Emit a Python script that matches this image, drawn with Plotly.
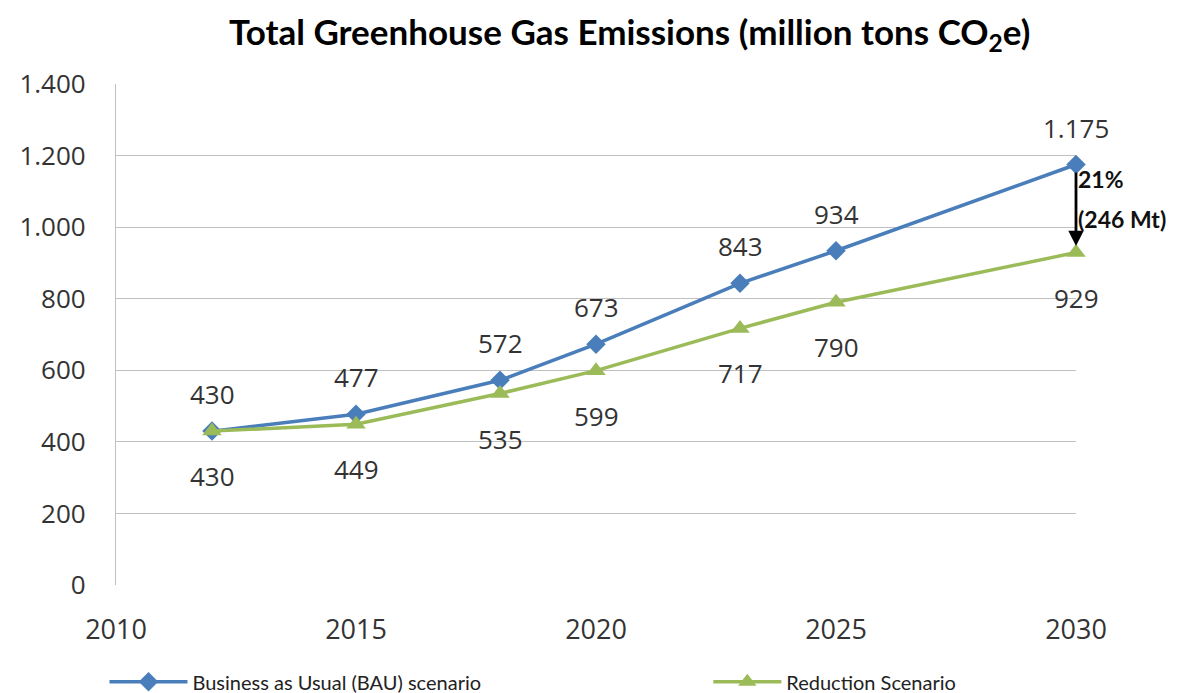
import plotly.graph_objects as go

years = [2012, 2015, 2018, 2020, 2023, 2025, 2030]
bau = [430, 477, 572, 673, 843, 934, 1175]
reduction = [430, 449, 535, 599, 717, 790, 929]
x_ticks = [2010, 2015, 2020, 2025, 2030]
y_ticks = [0, 200, 400, 600, 800, 1000, 1200, 1400]


def fmt(v):
    return f"{v:,}".replace(",", ".")


label_font = dict(family="Open Sans", size=26, color="#333333")

fig = go.Figure()
fig.add_trace(go.Scatter(
    x=years, y=bau, mode="lines+markers",
    name="Business as Usual (BAU) scenario",
    line=dict(color="#4A7EBB", width=3.5),
    marker=dict(symbol="diamond", size=15, color="#4A7EBB"),
    cliponaxis=False, legend="legend",
))
fig.add_trace(go.Scatter(
    x=years, y=reduction, mode="lines+markers",
    name="Reduction Scenario",
    line=dict(color="#9BBB59", width=3.5),
    marker=dict(symbol="triangle-up", size=17, color="#9BBB59"),
    cliponaxis=False, legend="legend2",
))

# data labels
for xv, yv in zip(years, bau):
    fig.add_annotation(x=xv, y=yv, text=fmt(yv), showarrow=False, yshift=37,
                       yanchor="middle", font=label_font)
for xv, yv in zip(years, reduction):
    fig.add_annotation(x=xv, y=yv, text=fmt(yv), showarrow=False, yshift=-45,
                       yanchor="middle", font=label_font)

# arrow showing the reduction in 2030
fig.add_annotation(x=years[-1], y=reduction[-1] + 18, ax=years[-1], ay=bau[-1] - 18,
                   xref="x", yref="y", axref="x", ayref="y",
                   showarrow=True, arrowhead=2, arrowsize=1.1, arrowwidth=2.8,
                   arrowcolor="black", text="")
diff = bau[-1] - reduction[-1]
pct = round(100 * diff / bau[-1])
fig.add_annotation(x=years[-1], y=bau[-1], yshift=-14, xref="x", yref="y",
                   text=f"<b>{pct}%</b>", showarrow=False, xanchor="left", yanchor="middle",
                   xshift=0, font=dict(family="Lato", size=23, color="#111111"))
fig.add_annotation(x=years[-1], y=bau[-1], yshift=-54, xref="x", yref="y",
                   text=f"<b>({diff} Mt)</b>", showarrow=False, xanchor="left", yanchor="middle",
                   xshift=0, font=dict(family="Lato", size=23, color="#111111"))

fig.update_layout(
    width=1202, height=693,
    paper_bgcolor="white", plot_bgcolor="white",
    margin=dict(l=108, r=134, t=76, b=116, autoexpand=False),
    separators=",.",
    title=dict(text="<b>Total Greenhouse Gas Emissions (million tons CO<sub>2</sub>e)</b>",
               x=0.535, xanchor="center", xref="paper", yref="container",
               y=0.965, yanchor="middle",
               font=dict(family="Lato", size=35, color="black")),
    xaxis=dict(range=[2010, 2030], tickvals=x_ticks, ticktext=[str(v) for v in x_ticks],
               showgrid=False, zeroline=False, showline=False, ticks="",
               ticklabelstandoff=26,
               tickfont=dict(family="Open Sans", size=27, color="#333333")),
    yaxis=dict(range=[0, 1400], tickvals=y_ticks, tickformat=",d",
               showgrid=True, gridcolor="#C0C0C0", gridwidth=1.2,
               zeroline=False, showline=True, linecolor="#C0C0C0", linewidth=1.2,
               ticks="", ticklabelstandoff=24,
               tickfont=dict(family="Open Sans", size=26, color="#333333")),
    showlegend=True,
    legend=dict(orientation="h", x=-0.012, xanchor="left", y=-0.193, yanchor="middle",
                bgcolor="rgba(0,0,0,0)", itemwidth=78,
                font=dict(family="Lato", size=20, color="#222222")),
    legend2=dict(orientation="h", x=0.617, xanchor="left", y=-0.193, yanchor="middle",
                 bgcolor="rgba(0,0,0,0)", itemwidth=68,
                 font=dict(family="Lato", size=20, color="#222222")),
)

fig.write_html("out.html")
